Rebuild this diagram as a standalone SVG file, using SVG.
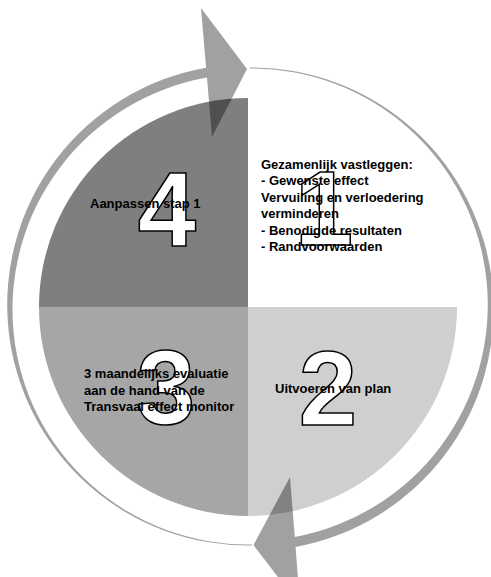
<svg xmlns="http://www.w3.org/2000/svg" width="491" height="577" viewBox="0 0 491 577">
<style>
.lbl{font-family:"Liberation Sans",Arial,sans-serif;font-weight:bold;font-size:13px;fill:#000}
.big{font-family:"Liberation Sans",Arial,sans-serif;font-weight:bold;font-size:105px;fill:#fff;stroke:#000;stroke-width:1.5;text-anchor:middle}
.arrow{fill:#000;fill-opacity:0.37;stroke:none}
</style>
<rect width="491" height="577" fill="#fff"/>
<g id="q1">
<path d="M248 307 L248 98 A209 209 0 0 1 457 307 Z" fill="#fff"/>
<text class="big" x="324" y="245">1</text>
<text class="lbl"><tspan x="261" y="168.7">Gezamenlijk vastleggen:</tspan><tspan x="261" y="185.2">- Gewenste effect</tspan><tspan x="261" y="201.7">Vervuiling en verloedering</tspan><tspan x="261" y="218.2">verminderen</tspan><tspan x="261" y="234.7">- Benodigde resultaten</tspan><tspan x="261" y="251.2">- Randvoorwaarden</tspan></text>
</g>
<g id="q2">
<path d="M248 307 L457 307 A209 209 0 0 1 248 516 Z" fill="#cfcfcf"/>
<text class="big" x="328" y="425">2</text>
<text class="lbl" x="275" y="392.7">Uitvoeren van plan</text>
</g>
<g id="q3">
<path d="M248 307 L248 516 A209 209 0 0 1 39 307 Z" fill="#a6a6a6"/>
<text class="big" x="166" y="424">3</text>
<text class="lbl"><tspan x="84" y="378">3 maandelijks evaluatie</tspan><tspan x="84" y="394.5">aan de hand van de</tspan><tspan x="84" y="411">Transvaal effect monitor</tspan></text>
</g>
<g id="q4">
<path d="M248 307 L39 307 A209 209 0 0 1 248 98 Z" fill="#7f7f7f"/>
<text class="big" x="167" y="246">4</text>
<text class="lbl" x="90" y="207.5">Aanpassen stap 1</text>
</g>
<g id="connectors">
<path class="arrow" d="M252 545.5 A240.75 240.75 0 0 1 206.1 67.7 L201 8 L247 69 L212 137 L206.95 77.6 A235.25 235.25 0 0 0 252 544.5 Z"/>
<path class="arrow" d="M250 67.5 A241.75 241.75 0 0 1 295.6 547 L300 606 L253.5 545 L290 477 L294.8 537 A236.25 236.25 0 0 0 250 68.5 Z"/>
</g>
</svg>
